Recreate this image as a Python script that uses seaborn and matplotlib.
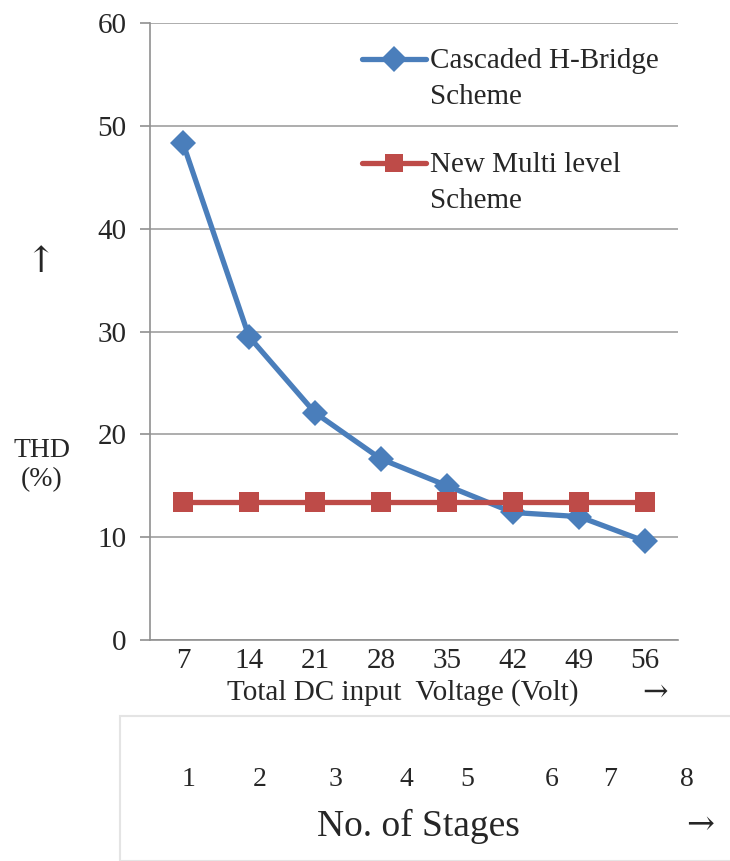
import pandas as pd
import numpy as np
import seaborn as sns
from matplotlib import pyplot as plt
from matplotlib.patches import Rectangle

voltage = ["7", "14", "21", "28", "35", "42", "49", "56"]
chb_thd = [48.3, 29.5, 22.1, 17.6, 15.0, 12.4, 12.0, 9.6]
new_thd = [13.4, 13.4, 13.4, 13.4, 13.4, 13.4, 13.4, 13.4]
stages = ["1", "2", "3", "4", "5", "6", "7", "8"]
series_names = ["Cascaded H-Bridge\nScheme", "New Multi level\nScheme"]

df = pd.DataFrame({
    "Voltage": voltage * 2,
    "THD": chb_thd + new_thd,
    "Scheme": [series_names[0]] * len(voltage) + [series_names[1]] * len(voltage),
})

sns.set_style("white")
plt.rcParams['font.family'] = ['Liberation Serif', 'DejaVu Serif']

W, H = 730, 861
fig = plt.figure(figsize=(W / 100, H / 100), dpi=100)
ax = fig.add_axes([150 / W, 1 - 640 / H, (678 - 150) / W, (640 - 23) / H])

sns.lineplot(data=df, x="Voltage", y="THD", hue="Scheme", style="Scheme",
             palette=["#4A7EBB", "#BE4B48"], markers=["D", "s"], dashes=False,
             markersize=13, linewidth=3.8, markeredgewidth=0, ax=ax)
# square marker a bit bigger
ax.lines[1].set_markersize(15)

ax.set_xlim(-0.5, len(voltage) - 0.5)
ax.set_ylim(0, 60)
ax.set_yticks(np.arange(0, 61, 10))
ax.yaxis.grid(True, color="#A0A0A0", linewidth=1.2)
ax.set_axisbelow(True)
for s in ["top", "right"]:
    ax.spines[s].set_visible(False)
for s in ["left", "bottom"]:
    ax.spines[s].set_color("#909090")
    ax.spines[s].set_linewidth(1.2)

ax.set_xticks(np.arange(-0.5, len(voltage)), minor=True)
ax.tick_params(axis="x", which="minor", length=8, color="#909090", width=1.2, direction="out")
ax.tick_params(axis="x", which="major", length=0, pad=6, labelsize=21)
ax.tick_params(axis="y", length=7, color="#909090", width=1.2, pad=10, labelsize=21, left=True)
ax.set_xlabel("")
ax.set_ylabel("")

leg = ax.legend(loc="upper left", bbox_to_anchor=((350 - 150) / 528, (640 - 36) / 617),
                frameon=False, fontsize=21, handlelength=2.2, handletextpad=0.15,
                labelspacing=1.45, borderaxespad=0)
for t in leg.get_texts():
    t.set_linespacing(1.5)
# handle sits on the first text line, like the original
for line in leg.get_lines():
    line.set_linewidth(3.8)
    line.set_ydata(np.asarray(line.get_ydata()) + 14)

fig.text(403 / W, 1 - 693 / H, "Total DC input  Voltage (Volt)", ha="center", va="center", fontsize=21)
fig.text(655 / W, 1 - 692 / H, "→", ha="center", va="center", fontsize=22, family=["DejaVu Serif"])
fig.text(40 / W, 1 - 262 / H, "↑", ha="center", va="center", fontsize=26, family=["DejaVu Serif"])
fig.text(42 / W, 1 - 465 / H, "THD\n(%)", ha="center", va="center", fontsize=20, linespacing=1.25)

# stage box below the chart
fig.patches.append(Rectangle((120 / W, 0), 1, 1 - 716 / H, transform=fig.transFigure,
                             fill=False, edgecolor="#E4E4E4", linewidth=1.5))
stage_x = [189, 260, 335, 406, 467, 552, 610, 687]
for sx, lab in zip(stage_x, stages):
    fig.text(sx / W, 1 - 780 / H, lab, ha="center", va="center", fontsize=20)
fig.text(418 / W, 1 - 826 / H, "No. of Stages", ha="center", va="center", fontsize=27)
fig.text(700 / W, 1 - 825 / H, "→", ha="center", va="center", fontsize=24, family=["DejaVu Serif"])

plt.savefig("out.png", dpi=100)
